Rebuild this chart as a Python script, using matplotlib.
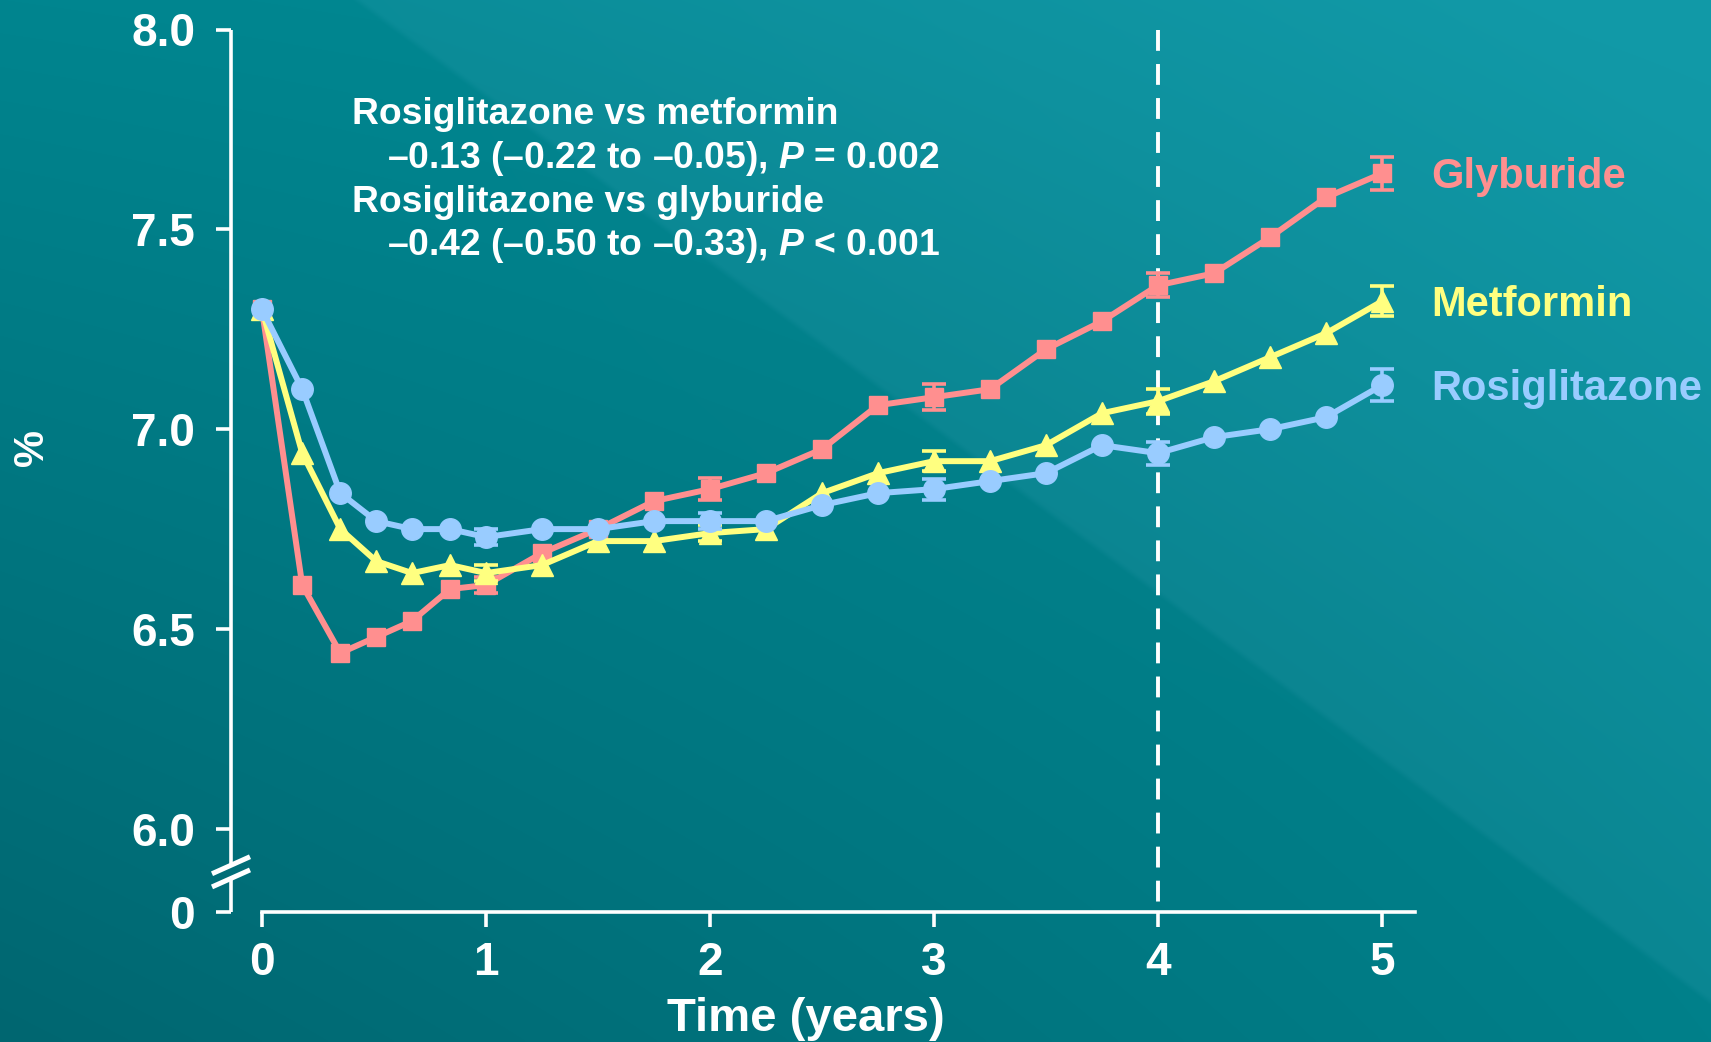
import numpy as np
import matplotlib
matplotlib.use("Agg")
import matplotlib.pyplot as plt
import matplotlib.transforms as mtransforms
from matplotlib.lines import Line2D

plt.rcParams['font.family'] = ['Liberation Sans', 'DejaVu Sans']
plt.rcParams['font.weight'] = 'bold'
plt.rcParams['mathtext.fontset'] = 'custom'
plt.rcParams['mathtext.rm'] = 'Liberation Sans:bold'
plt.rcParams['mathtext.it'] = 'Liberation Sans:bold:italic'
plt.rcParams['mathtext.bf'] = 'Liberation Sans:bold'
plt.rcParams['lines.scale_dashes'] = False

# ---- data: mean HbA1c (%) by visit time (years) ----
years = [0, 0.18, 0.35, 0.51, 0.67, 0.84, 1.0, 1.25, 1.5, 1.75, 2.0, 2.25,
         2.5, 2.75, 3.0, 3.25, 3.5, 3.75, 4.0, 4.25, 4.5, 4.75, 5.0]
glyburide = [7.30, 6.61, 6.44, 6.48, 6.52, 6.60, 6.61, 6.69, 6.75, 6.82, 6.85, 6.89,
             6.95, 7.06, 7.08, 7.10, 7.20, 7.27, 7.36, 7.39, 7.48, 7.58, 7.64]
metformin = [7.30, 6.94, 6.75, 6.67, 6.64, 6.66, 6.64, 6.66, 6.72, 6.72, 6.74, 6.75,
             6.84, 6.89, 6.92, 6.92, 6.96, 7.04, 7.07, 7.12, 7.18, 7.24, 7.32]
rosiglitazone = [7.30, 7.10, 6.84, 6.77, 6.75, 6.75, 6.73, 6.75, 6.75, 6.77, 6.77, 6.77,
                 6.81, 6.84, 6.85, 6.87, 6.89, 6.96, 6.94, 6.98, 7.00, 7.03, 7.11]

# standard errors shown at the yearly visits
err_years = [1, 2, 3, 4, 5]
glyburide_err = [0.02, 0.027, 0.032, 0.03, 0.042]
metformin_err = [0.02, 0.02, 0.025, 0.031, 0.037]
rosiglitazone_err = [0.02, 0.02, 0.026, 0.029, 0.04]

series_names = ["Glyburide", "Metformin", "Rosiglitazone"]
x_ticks = [0, 1, 2, 3, 4, 5]
y_ticks = [6.0, 6.5, 7.0, 7.5, 8.0]
y_tick_labels = ["6.0", "6.5", "7.0", "7.5", "8.0"]
y_zero_pos = 5.792          # where the broken axis shows "0"

stats_lines = [
    "Rosiglitazone vs metformin",
    "–0.13 (–0.22 to –0.05), $P$ = 0.002",
    "Rosiglitazone vs glyburide",
    "–0.42 (–0.50 to –0.33), $P$ < 0.001",
]

colors = {"Glyburide": "#FF8F8F", "Metformin": "#FFFF80", "Rosiglitazone": "#99CCFF"}
markers = {"Glyburide": ("s", 13.5), "Metformin": ("^", 15.5), "Rosiglitazone": ("o", 15.5)}
values = {"Glyburide": glyburide, "Metformin": metformin, "Rosiglitazone": rosiglitazone}
errors = {"Glyburide": glyburide_err, "Metformin": metformin_err,
          "Rosiglitazone": rosiglitazone_err}

W, H = 1711, 1042
fig = plt.figure(figsize=(W / 100, H / 100), dpi=100)

# ---- teal gradient backdrop ----
bg = fig.add_axes([0, 0, 1, 1], zorder=0)
bg.set_axis_off()
yy, xx = np.mgrid[0:H, 0:W].astype(float)
xn, yn = xx / W, yy / H
TL = np.array([0, 133, 143]); TR = np.array([4, 140, 150])
BL = np.array([0, 102, 112]); BR = np.array([0, 128, 138])
img = ((1 - xn)[..., None] * (1 - yn)[..., None] * TL + xn[..., None] * (1 - yn)[..., None] * TR
       + (1 - xn)[..., None] * yn[..., None] * BL + xn[..., None] * yn[..., None] * BR)
# lighter diagonal band toward the upper right
x0, y0, x1, y1 = 352, 0, 1711, 1006
nx, ny = (y1 - y0), -(x1 - x0)
norm = np.hypot(nx, ny)
d = ((xx - x0) * nx + (yy - y0) * ny) / norm      # >0 on the upper-right side
band = np.clip(d / 6.0, 0, 1)[..., None]
grow = np.clip(d / 700.0, 0, 1)[..., None]
img = img + band * np.array([10, 6, 8]) + grow * np.array([4, 8, 10])
bg.imshow(np.clip(img, 0, 255).astype(np.uint8), aspect='auto', extent=(0, 1, 0, 1),
          interpolation='bilinear')

# ---- main axes ----
ax_left, ax_right = 231 / W, 1415 / W
ax_bottom, ax_top = 1 - 912 / H, 1 - 29.5 / H
ax = fig.add_axes([ax_left, ax_bottom, ax_right - ax_left, ax_top - ax_bottom], zorder=1)
ax.patch.set_visible(False)
ax.set_xlim(-0.138, 5.147)
ax.set_ylim(y_zero_pos, 8.0)

for s in ["top", "right", "left"]:
    ax.spines[s].set_visible(False)
ax.spines["bottom"].set_color("white")
ax.spines["bottom"].set_linewidth(2.6)
ax.spines["bottom"].set_bounds(0, 5.147)

ax.set_xticks(x_ticks)
ax.set_xticklabels([str(t) for t in x_ticks])
ax.set_yticks([y_zero_pos] + y_ticks)
ax.set_yticklabels(["0"] + y_tick_labels)
ax.tick_params(axis="both", colors="white", direction="out", length=10.8, width=2.6,
               labelsize=33)
ax.tick_params(axis="x", pad=10)
ax.tick_params(axis="y", pad=15)

# broken y axis drawn by hand
yaxis_tr = mtransforms.blended_transform_factory(ax.transAxes, ax.transData)
y_break_hi, y_break_lo = 5.907, 5.878
ax.plot([0, 0], [8.0, y_break_hi], color="white", lw=2.6, transform=yaxis_tr,
        clip_on=False, solid_capstyle="butt")
ax.plot([0, 0], [y_break_lo, y_zero_pos], color="white", lw=2.6, transform=yaxis_tr,
        clip_on=False, solid_capstyle="butt")
for yb in (y_break_hi + 0.002, y_break_lo - 0.002):
    cx, cy = yaxis_tr.transform((0, yb))
    fig.add_artist(Line2D([cx - 19, cx + 19], [cy - 8.5, cy + 8.5], color="white", lw=3.6,
                          transform=mtransforms.IdentityTransform(), solid_capstyle="butt"))

# dashed marker at year 4
ax.plot([4, 4], [8.0, y_zero_pos], color="white", lw=2.8, dashes=(15, 9.5),
        clip_on=False, zorder=2)

# ---- series ----
for i, name in enumerate(series_names):
    c = colors[name]
    m, ms = markers[name]
    ax.plot(years, values[name], color=c, lw=4.3, marker=m, ms=ms, mec=c, mfc=c,
            clip_on=False, zorder=3 + i)
    ev = [values[name][years.index(t)] for t in err_years]
    ax.errorbar(err_years, ev, yerr=errors[name], fmt="none", ecolor=c, elinewidth=2.6,
                capsize=8.5, capthick=2.6, clip_on=False, zorder=3 + i)
    ax.annotate(name, xy=(years[-1], values[name][-1]), xytext=(35.6, -10.7),
                textcoords="offset points", color=c, fontsize=30, fontweight="bold",
                va="baseline", ha="left", annotation_clip=False)

# ---- comparison statistics ----
stat_pos = [(0.402, 7.764), (0.558, 7.654), (0.402, 7.544), (0.558, 7.437)]
for txt, (tx, ty) in zip(stats_lines, stat_pos):
    ax.text(tx, ty, txt, color="white", fontsize=26.8, fontweight="bold", va="baseline",
            ha="left")

# ---- axis titles ----
fig.text(32 / W, 1 - 448 / H, "%", rotation=90, color="white", fontsize=30,
         fontweight="bold", ha="center", va="center")
fig.text(806 / W, 1 - 1031 / H, "Time (years)", color="white", fontsize=34,
         fontweight="bold", ha="center", va="baseline")

fig.savefig("out.png", dpi=100)
